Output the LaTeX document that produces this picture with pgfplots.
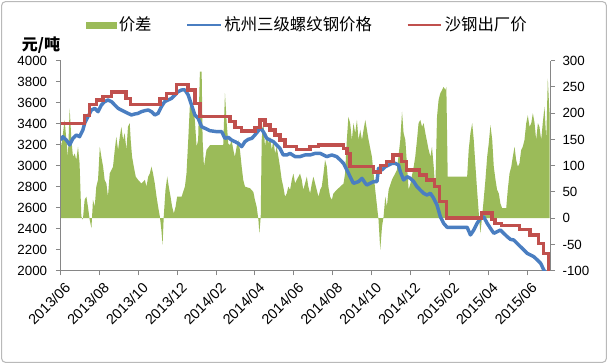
\documentclass[border=0pt]{standalone}
\usepackage{fontspec}
\setmainfont{Liberation Sans}
\newfontfamily\cjk{Noto Sans CJK SC}
\usepackage{pgfplots}
\pgfplotsset{compat=1.18}
\definecolor{xgreen}{RGB}{155,187,89}
\definecolor{xblue}{RGB}{74,126,193}
\definecolor{xred}{RGB}{192,80,77}
\definecolor{axgray}{RGB}{134,134,134}

\pgfplotstableread{
m v
0 155
0.04 136
0.21 187
0.38 117
0.47 209
0.56 149
0.64 117
0.73 123
0.81 111
0.90 136
0.98 104
1.07 3
1.15 -3
1.24 35
1.33 41
1.41 22
1.50 -3
1.59 -19
1.67 35
1.76 22
1.84 60
1.93 73
2.02 136
2.10 117
2.19 98
2.27 73
2.36 66
2.44 41
2.53 85
2.70 98
2.79 130
2.87 155
2.96 130
3.05 155
3.13 174
3.22 149
3.30 162
3.39 130
3.47 174
3.56 181
3.61 149
3.68 117
3.77 98
3.87 79
3.99 73
4.16 66
4.34 73
4.42 60
4.51 79
4.59 85
4.68 98
4.76 85
4.85 66
4.94 41
5.02 22
5.11 3
5.19 -23
5.25 -51
5.31 3
5.40 54
5.49 79
5.57 60
5.66 41
5.74 22
5.83 9
5.92 22
6.00 41
6.23 41
6.40 60
6.48 85
6.57 149
6.65 212
6.74 225
6.82 212
6.91 187
7.00 136
7.08 149
7.17 279
7.26 279
7.31 149
7.38 98
7.43 111
7.51 130
7.69 139
8.37 139
8.46 238
8.55 181
8.63 142
8.72 139
8.80 149
8.89 130
8.97 117
9.06 136
9.14 149
9.23 130
9.32 98
9.40 73
9.49 60
9.75 57
9.92 50
10.00 35
10.09 22
10.18 -3
10.23 -29
10.30 3
10.35 149
10.43 187
10.52 136
10.61 162
10.69 142
10.78 155
10.87 130
10.95 149
11.04 123
11.12 136
11.21 117
11.29 98
11.38 73
11.46 60
11.55 41
11.64 47
11.72 60
11.81 54
11.90 73
11.98 85
12.07 66
12.15 73
12.24 79
12.32 85
12.41 73
12.49 54
12.58 66
12.67 79
12.75 60
12.84 47
12.93 66
13.01 79
13.10 66
13.18 54
13.27 41
13.36 54
13.44 60
13.53 85
13.61 111
13.70 98
13.78 60
13.87 41
13.96 35
14.04 47
14.21 54
14.39 60
14.56 66
14.64 85
14.73 149
14.81 193
14.90 181
14.99 149
15.07 181
15.16 162
15.25 187
15.33 149
15.42 168
15.51 149
15.59 168
15.68 187
15.85 149
16.02 117
16.19 54
16.36 -3
16.45 -60
16.54 -16
16.62 3
16.71 41
16.79 22
16.88 54
17.05 73
17.31 92
17.48 149
17.57 203
17.65 162
17.74 149
17.83 98
17.91 54
18.00 66
18.17 98
18.25 117
18.34 149
18.42 181
18.51 187
18.60 174
18.68 181
18.77 162
18.94 130
19.03 117
19.11 136
19.20 98
19.28 54
19.37 193
19.45 225
19.54 238
19.63 244
19.71 250
19.80 244
19.85 250
19.92 79
20.92 79
21.00 130
21.09 162
21.18 181
21.26 149
21.35 98
21.43 54
21.52 9
21.60 -29
21.69 3
21.77 35
21.86 73
21.95 117
22.03 142
22.12 177
22.21 149
22.29 98
22.38 73
22.46 54
22.55 47
22.63 28
22.72 19
22.93 19
23.01 54
23.10 85
23.19 98
23.27 117
23.36 136
23.44 111
23.53 98
23.61 104
23.70 130
23.78 136
23.87 149
23.96 181
24.04 196
24.13 174
24.22 181
24.30 200
24.39 181
24.47 149
24.56 181
24.64 174
24.73 149
24.81 181
24.90 212
24.99 149
25.07 266
25.14 212
25.16 200
}\spread

\pgfplotstableread{
m v
0.00 3244
0.12 3276
0.30 3244
0.47 3197
0.64 3260
0.81 3292
0.98 3276
1.15 3340
1.24 3403
1.41 3467
1.59 3530
1.76 3546
1.93 3514
2.10 3578
2.27 3610
2.44 3625
2.62 3610
2.79 3578
2.96 3546
3.13 3530
3.30 3514
3.47 3498
3.65 3483
3.82 3492
3.99 3498
4.16 3514
4.34 3524
4.51 3530
4.68 3514
4.85 3483
5.02 3498
5.19 3562
5.36 3610
5.53 3625
5.71 3641
5.88 3673
6.05 3705
6.23 3721
6.40 3721
6.57 3673
6.74 3578
6.91 3483
7.08 3451
7.26 3371
7.43 3356
7.69 3333
8.03 3324
8.29 3324
8.46 3260
8.63 3270
8.80 3244
8.97 3229
9.14 3213
9.32 3181
9.49 3229
9.66 3251
9.84 3260
10.00 3292
10.18 3333
10.26 3365
10.43 3324
10.61 3260
10.78 3244
10.95 3229
11.12 3197
11.29 3165
11.46 3102
11.64 3102
11.81 3117
12.07 3086
12.32 3086
12.58 3102
12.84 3102
13.10 3117
13.36 3117
13.53 3102
13.70 3086
13.96 3102
14.21 3086
14.39 3054
14.56 3022
14.73 2959
14.90 2895
15.07 2832
15.33 2848
15.51 2879
15.68 2832
15.76 2816
15.93 2832
16.10 2848
16.28 2848
16.36 2975
16.54 2959
16.71 2990
16.88 3006
17.05 3022
17.22 3022
17.39 3006
17.48 2943
17.65 2864
17.83 2895
18.00 2879
18.17 2848
18.34 2800
18.51 2768
18.68 2737
18.85 2721
19.03 2737
19.20 2689
19.37 2625
19.54 2514
19.71 2451
19.89 2413
20.92 2413
21.09 2340
21.26 2387
21.43 2451
21.60 2498
21.77 2514
21.95 2451
22.12 2403
22.29 2356
22.46 2371
22.63 2387
22.80 2356
22.98 2324
23.15 2298
23.32 2292
23.49 2260
23.66 2229
23.84 2197
24.01 2165
24.18 2149
24.35 2133
24.53 2102
24.70 2070
24.87 2006
24.96 1975
}\hz

\pgfplotstableread{
m v
0 3400
1.24 3480
1.50 3580
1.84 3625
2.19 3660
2.62 3700
3.36 3640
3.61 3580
5.11 3640
5.45 3690
5.97 3770
6.55 3720
6.91 3590
7.17 3470
8.72 3420
8.97 3365
9.32 3330
10.00 3365
10.26 3435
10.52 3387
10.78 3340
11.04 3292
11.29 3244
11.55 3181
12.15 3155
12.84 3181
13.27 3197
14.56 3165
14.73 3117
14.90 2990
16.10 2940
16.45 3000
16.76 3040
17.10 3100
17.53 3040
17.79 2960
18.47 2910
18.82 2865
19.25 2800
19.51 2660
19.85 2500
21.67 2550
22.19 2490
22.36 2450
22.70 2430
23.60 2390
24.16 2340
24.60 2260
24.85 2165
25.10 1990
25.16 1990
}\sg

\pgfplotsset{myax/.style={
  scale only axis, width=367.5pt, height=157.5pt,
  at={(45.4pt,70pt)}, anchor=south west,
  xmin=0, xmax=25.21,
  tick align=outside, major tick length=3.5pt,
  axis line style={draw=axgray, line width=0.7pt},
  every tick/.style={draw=axgray, line width=0.7pt},
  ticklabel style={font=\fontsize{10}{12}\selectfont, text=black},
  /pgf/number format/assume math mode=true,
  /pgf/number format/1000 sep={},
}}

\begin{document}
\begin{tikzpicture}
\path[use as bounding box] (0,0) rectangle (456pt,273pt);
\draw[draw=gray!55, line width=0.8pt, rounded corners=3pt] (1.2pt,1.2pt) rectangle (454.8pt,271.8pt);

\begin{axis}[myax, ymin=-100, ymax=300, ytick={-100,-50,...,300},
  axis y line*=right, axis x line=none,
  yticklabel style={anchor=west, xshift=2pt}]
\addplot[fill=xgreen, draw=none] table[x=m,y=v] {\spread} \closedcycle;
\end{axis}

\begin{axis}[myax, ymin=2000, ymax=4000, ytick={2000,2200,...,4000},
  axis y line*=left, axis x line*=bottom,
  xtick={0,2,...,24},
  xticklabels={2013/06,2013/08,2013/10,2013/12,2014/02,2014/04,2014/06,2014/08,2014/10,2014/12,2015/02,2015/04,2015/06},
  xticklabel style={rotate=45, anchor=east, yshift=-9pt, xshift=2pt, font=\fontsize{10.8}{12}\selectfont},
  yticklabel style={xshift=-3pt},
  legend columns=3,
  legend style={at={(0.504,1.17)}, anchor=center, draw=none, fill=none,
    font=\cjk\fontsize{12.3}{14}\selectfont, inner sep=0pt,
    /tikz/every even column/.append style={column sep=24pt}},
  legend cell align=left]
\addlegendimage{legend image code/.code={\fill[xgreen] (0pt,-2.3pt) rectangle (22.5pt,2.3pt);}}
\addlegendentry{价差}
\addplot[draw=xblue, line width=2.6pt, line join=round,
  legend image code/.code={\draw[xblue, line width=1.6pt] (0pt,0pt) -- (25pt,0pt);}]
  table[x=m,y=v] {\hz};
\addlegendentry{杭州三级螺纹钢价格}
\addplot[draw=xred, line width=2.5pt, const plot, line join=miter,
  legend image code/.code={\draw[xred, line width=1.6pt] (0pt,0pt) -- (25pt,0pt);}]
  table[x=m,y=v] {\sg};
\addlegendentry{沙钢出厂价}
\end{axis}

\node[font=\cjk\bfseries\fontsize{12}{14}\selectfont] at (30.75pt,239pt) {元/吨};
\end{tikzpicture}
\end{document}
